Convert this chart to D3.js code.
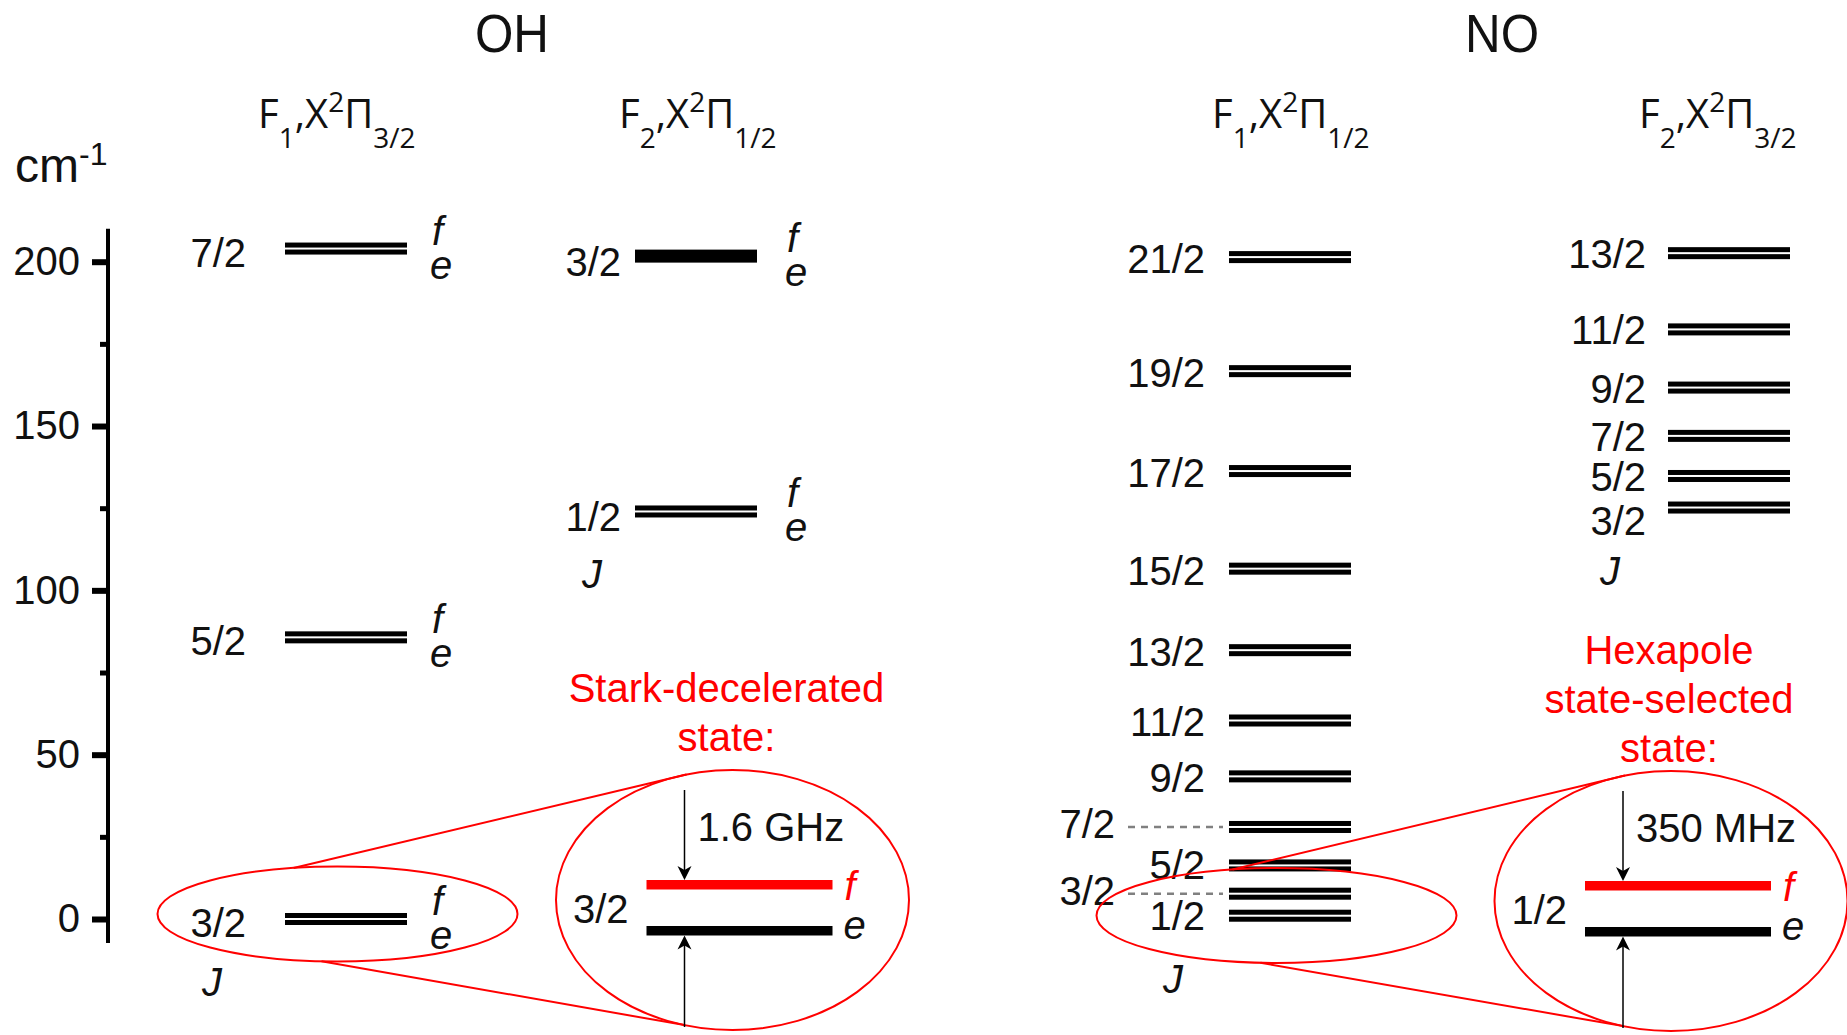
<!DOCTYPE html>
<html>
<head>
<meta charset="utf-8">
<script src="https://cdn.jsdelivr.net/npm/d3@7"></script>
<style>
  html, body { margin: 0; padding: 0; background: #fff; }
  svg { display: block; }
  text { font-family: "Liberation Sans", Arial, sans-serif; fill: #111; }
</style>
</head>
<body>
<svg id="chart"></svg>
<script>
// Rotational levels, energies in cm^-1
const ohF1J = ["3/2", "5/2", "7/2"];
const ohF1E = [0, 85.7, 204];
const ohF2J = ["1/2", "3/2"];
const ohF2E = [124, 201.7];
const noF1J = ["1/2", "3/2", "5/2", "7/2", "9/2", "11/2", "13/2", "15/2", "17/2", "19/2", "21/2"];
const noF1E = [1, 7.7, 16.3, 28, 43.4, 60.4, 81.8, 106.6, 136.3, 166.7, 201.4];
const noF2J = ["3/2", "5/2", "7/2", "9/2", "11/2", "13/2"];
const noF2E = [125.2, 134.8, 147, 161.7, 179.4, 202.6];

const yTicks = [0, 50, 100, 150, 200];
const yMinorTicks = [25, 75, 125, 175];

const molecules = ["OH", "NO"];
const insetJ = ["3/2", "1/2"];
const insetSplit = ["1.6 GHz", "350 MHz"];
const insetCaption = [["Stark-decelerated", "state:"], ["Hexapole", "state-selected", "state:"]];

(function () {
  const W = 1847, H = 1035;
  const RED = "#ff0000";
  const svg = d3.select("#chart").attr("width", W).attr("height", H);

  // Scales
  const y = d3.scaleLinear().domain([0, 200]).range([919, 261.7]);
  const columns = [
    { key: "ohF1", J: ohF1J, E: ohF1E, fsub: "1", omega: "3/2", parity: true },
    { key: "ohF2", J: ohF2J, E: ohF2E, fsub: "2", omega: "1/2", parity: true },
    { key: "noF1", J: noF1J, E: noF1E, fsub: "1", omega: "1/2", parity: false },
    { key: "noF2", J: noF2J, E: noF2E, fsub: "2", omega: "3/2", parity: false }
  ];
  const x = d3.scaleOrdinal()
    .domain(columns.map(c => c.key))
    .range([285, 635, 1229, 1668]);
  const barW = 122;

  // layout tweaks per column (pixels)
  const layout = {
    ohF1: { labelRight: 246, labelDy: 18, stateX: 258, feDx: 25, jX: 212 },
    ohF2: { labelRight: 621, labelDy: 20, stateX: 619, feDx: 30, jX: 592 },
    noF1: { labelRight: 1205, labelDy: 16, stateX: 1212, jX: 1173 },
    noF2: { labelRight: 1646, labelDy: 15, stateX: 1639, jX: 1610 }
  };
  const solidPair = { "ohF2:3/2": true };
  const labelNudge = { "noF2:3/2": 12, "noF1:1/2": -2, "noF1:5/2": -2 };
  const leader = { "noF1:7/2": true, "noF1:3/2": true };

  // Molecule titles
  svg.selectAll("text.title")
    .data(molecules)
    .join("text")
    .attr("class", "title")
    .attr("x", (d, i) => [512, 1502][i])
    .attr("y", 52)
    .attr("text-anchor", "middle")
    .attr("textLength", 74)
    .attr("lengthAdjust", "spacingAndGlyphs")
    .style("font-size", "54px")
    .text(d => d);

  // Axis
  const axisX = 108;
  const axG = svg.append("g").attr("transform", `translate(${axisX},0)`)
    .call(d3.axisLeft(y).tickValues(yTicks).tickSize(16).tickPadding(12).tickSizeOuter(0));
  axG.select(".domain").remove();
  axG.selectAll(".tick line").attr("stroke", "#000").attr("stroke-width", 6);
  axG.selectAll(".tick text").style("font-size", "40px");

  const minG = svg.append("g").attr("transform", `translate(${axisX},0)`)
    .call(d3.axisLeft(y).tickValues(yMinorTicks).tickSize(8).tickFormat(""));
  minG.select(".domain").remove();
  minG.selectAll(".tick line").attr("stroke", "#000").attr("stroke-width", 5);

  svg.append("line")
    .attr("x1", axisX).attr("x2", axisX)
    .attr("y1", y(-7.3)).attr("y2", y(210))
    .attr("stroke", "#000").attr("stroke-width", 4);

  const unit = svg.append("text").attr("x", 15).attr("y", 182).style("font-size", "48px");
  unit.append("tspan").text("cm");
  unit.append("tspan").attr("dy", -17).style("font-size", "32px").text("-1");

  // Columns
  columns.forEach(col => {
    const L = layout[col.key];
    const g = svg.append("g").attr("class", col.key);
    const levels = col.J.map((j, i) => ({ j, e: col.E[i], id: col.key + ":" + j }));
    const x0 = x(col.key);

    // state label  F_n, X^2Π_Ω
    const st = g.append("text").attr("x", L.stateX).attr("y", 128)
      .style("font-family", "'Open Sans', sans-serif").style("font-size", "40px");
    st.append("tspan").text("F");
    st.append("tspan").attr("dy", 20).style("font-size", "28px").text(col.fsub);
    st.append("tspan").attr("dy", -20).text(",X");
    st.append("tspan").attr("dy", -16).style("font-size", "28px").text("2");
    st.append("tspan").attr("dy", 16).text("\u03A0");
    st.append("tspan").attr("dy", 20).style("font-size", "28px").text(col.omega);

    levels.forEach(d => {
      const cy = y(d.e);
      if (solidPair[d.id]) {
        g.append("rect").attr("x", x0).attr("y", cy - 6.5).attr("width", barW).attr("height", 13).attr("fill", "#000");
      } else {
        g.append("rect").attr("x", x0).attr("y", cy - 6).attr("width", barW).attr("height", 5).attr("fill", "#000");
        g.append("rect").attr("x", x0).attr("y", cy + 1).attr("width", barW).attr("height", 5).attr("fill", "#000");
      }
      if (leader[d.id]) {
        g.append("line")
          .attr("x1", 1128).attr("x2", x0 - 6)
          .attr("y1", cy).attr("y2", cy)
          .attr("stroke", "#808080").attr("stroke-width", 2.5)
          .attr("stroke-dasharray", "7,6");
        g.append("text").attr("x", 1115).attr("y", cy + 11)
          .attr("text-anchor", "end").style("font-size", "40px").text(d.j);
      } else {
        g.append("text").attr("x", L.labelRight)
          .attr("y", cy + L.labelDy + (labelNudge[d.id] || 0))
          .attr("text-anchor", "end").style("font-size", "40px").text(d.j);
      }
      if (col.parity) {
        g.append("text").attr("x", x0 + barW + L.feDx).attr("y", cy - 4)
          .style("font-size", "40px").style("font-style", "italic").text("f");
        g.append("text").attr("x", x0 + barW + L.feDx - 2).attr("y", cy + 30)
          .style("font-size", "40px").style("font-style", "italic").text("e");
      }
    });

    const lowest = d3.min(col.E);
    g.append("text")
      .attr("x", L.jX)
      .attr("y", y(lowest) + 77)
      .attr("text-anchor", "middle")
      .style("font-size", "40px").style("font-style", "italic")
      .text("J");
  });

  // Zoom insets
  const insets = [
    { col: "ohF1", small: [337.5, 914], big: [732.5, 900], textX: -6, textBottom: -149 },
    { col: "noF1", small: [1276.5, 915.5], big: [1671, 901], textX: -2, textBottom: -139 }
  ];
  const sRx = 180, sRy = 47.5, bRx = 176.5, bRy = 130;

  function onEllipse(c, rx, ry, dx, top) {
    const t = Math.sqrt(Math.max(0, 1 - (dx / rx) * (dx / rx)));
    return [c[0] + dx, c[1] + (top ? -1 : 1) * ry * t];
  }

  const arrowHead = "M0,0 L-7,-14 L0,-10 L7,-14 Z";

  insets.forEach((ins, i) => {
    const g = svg.append("g").attr("class", "inset");
    const [cx, cy] = ins.big;

    g.append("ellipse").attr("cx", ins.small[0]).attr("cy", ins.small[1])
      .attr("rx", sRx).attr("ry", sRy)
      .attr("fill", "none").attr("stroke", RED).attr("stroke-width", 2);
    g.append("ellipse").attr("cx", cx).attr("cy", cy)
      .attr("rx", bRx).attr("ry", bRy)
      .attr("fill", "none").attr("stroke", RED).attr("stroke-width", 2);

    const a1 = onEllipse(ins.small, sRx, sRy, -44, true);
    const b1 = onEllipse(ins.big, bRx, bRy, -46, true);
    const a2 = onEllipse(ins.small, sRx, sRy, -16, false);
    const b2 = onEllipse(ins.big, bRx, bRy, -48, false);
    [[a1, b1], [a2, b2]].forEach(([a, b]) => {
      g.append("line").attr("x1", a[0]).attr("y1", a[1]).attr("x2", b[0]).attr("y2", b[1])
        .attr("stroke", RED).attr("stroke-width", 2);
    });

    // caption
    const cap = insetCaption[i];
    cap.forEach((line, k) => {
      g.append("text")
        .attr("x", cx + ins.textX)
        .attr("y", cy + ins.textBottom - (cap.length - 1 - k) * 49)
        .attr("text-anchor", "middle")
        .style("font-size", "40px").style("fill", RED)
        .text(line);
    });

    // f (red) and e (black) sublevels
    g.append("rect").attr("x", cx - 86).attr("y", cy - 20).attr("width", 186).attr("height", 9.5).attr("fill", RED);
    g.append("rect").attr("x", cx - 86).attr("y", cy + 26).attr("width", 186).attr("height", 9.5).attr("fill", "#000");
    g.append("text").attr("x", cx - 104).attr("y", cy + 23).attr("text-anchor", "end")
      .style("font-size", "40px").text(insetJ[i]);
    g.append("text").attr("x", cx + 112).attr("y", cy)
      .style("font-size", "40px").style("font-style", "italic").style("fill", RED).text("f");
    g.append("text").attr("x", cx + 111).attr("y", cy + 39)
      .style("font-size", "40px").style("font-style", "italic").text("e");
    g.append("text").attr("x", cx - 35).attr("y", cy - 59)
      .style("font-size", "40px").text(insetSplit[i]);

    // splitting arrows
    const ax = cx - 48;
    g.append("line").attr("x1", ax).attr("x2", ax).attr("y1", cy - 110).attr("y2", cy - 26)
      .attr("stroke", "#000").attr("stroke-width", 1.5);
    g.append("path").attr("d", arrowHead).attr("transform", `translate(${ax},${cy - 20})`).attr("fill", "#000");
    g.append("line").attr("x1", ax).attr("x2", ax).attr("y1", cy + 127).attr("y2", cy + 42)
      .attr("stroke", "#000").attr("stroke-width", 1.5);
    g.append("path").attr("d", arrowHead).attr("transform", `translate(${ax},${cy + 35.5}) rotate(180)`).attr("fill", "#000");
  });
})();
</script>
</body>
</html>
